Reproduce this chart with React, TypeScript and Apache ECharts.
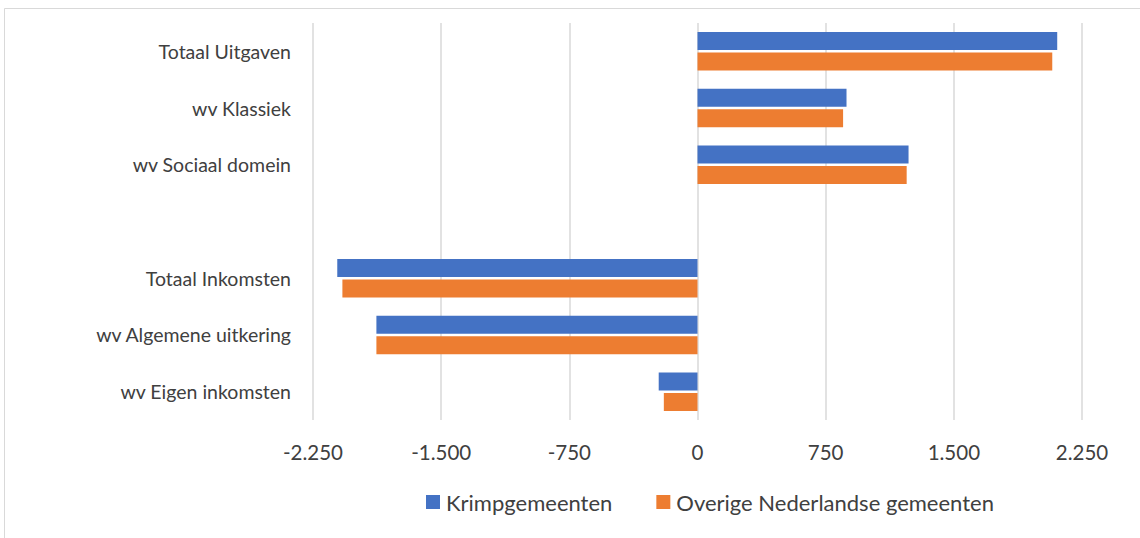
import React, { useEffect, useRef } from "react";
import * as echarts from "echarts";

const categories = [
  "Totaal Uitgaven",
  "wv Klassiek",
  "wv Sociaal domein",
  "",
  "Totaal Inkomsten",
  "wv Algemene uitkering",
  "wv Eigen inkomsten",
];
const krimpValues = [2105, 872, 1235, null, -2108, -1879, -227];
const overigeValues = [2076, 852, 1224, null, -2078, -1879, -197];
const seriesNames = ["Krimpgemeenten", "Overige Nederlandse gemeenten"];
const xTicks = { min: -2250, max: 2250, interval: 750 };

const FONT = "Lato";

function fmt(v: number): string {
  const s = Math.abs(v).toString().replace(/\B(?=(\d{3})+(?!\d))/g, ".");
  return (v < 0 ? "-" : "") + s;
}

export default function App() {
  const ref = useRef<HTMLDivElement>(null);
  useEffect(() => {
    if (!ref.current) return;
    const chart = echarts.init(ref.current, undefined, { renderer: "svg" });
    chart.setOption({
      animation: false,
      backgroundColor: "#ffffff",
      textStyle: { fontFamily: FONT },
      graphic: [
        {
          type: "rect",
          shape: { x: 4.5, y: 8.5, width: 1200, height: 600 },
          style: { fill: "none", stroke: "#d9d9d9", lineWidth: 1 },
          silent: true,
        },
      ],
      grid: { left: 313, right: 58, top: 23, bottom: 118, containLabel: false },
      legend: {
        left: 421,
        top: 486,
        icon: "rect",
        itemWidth: 14,
        itemHeight: 14,
        itemGap: 44,
        textStyle: { fontFamily: FONT, fontSize: 22, color: "#404040", padding: [0, 0, 0, 1] },
        data: seriesNames,
      },
      xAxis: {
        type: "value",
        min: xTicks.min,
        max: xTicks.max,
        interval: xTicks.interval,
        axisLine: { show: false },
        axisTick: { show: false },
        splitLine: { show: true, lineStyle: { color: "#d9d9d9", width: 1.5 } },
        axisLabel: {
          fontFamily: FONT,
          fontSize: 20.5,
          color: "#404040",
          margin: 21,
          formatter: (v: number) => fmt(v),
        },
      },
      yAxis: {
        type: "category",
        data: categories,
        inverse: true,
        axisLine: { show: false, onZero: false },
        axisTick: { show: false },
        splitLine: { show: false },
        axisLabel: { fontFamily: FONT, fontSize: 19.5, color: "#404040", margin: 22 },
      },
      series: [
        {
          name: seriesNames[0],
          type: "bar",
          data: krimpValues,
          itemStyle: { color: "#4472C4" },
          barWidth: 18,
          barGap: "14%",
          barCategoryGap: "31%",
        },
        {
          name: seriesNames[1],
          type: "bar",
          data: overigeValues,
          itemStyle: { color: "#ED7D31" },
          barWidth: 18,
          barGap: "14%",
        },
      ],
    });
    return () => chart.dispose();
  }, []);
  return (
    <div
      ref={ref}
      style={{ position: "fixed", left: 0, top: 0, width: 1140, height: 538 }}
    />
  );
}
